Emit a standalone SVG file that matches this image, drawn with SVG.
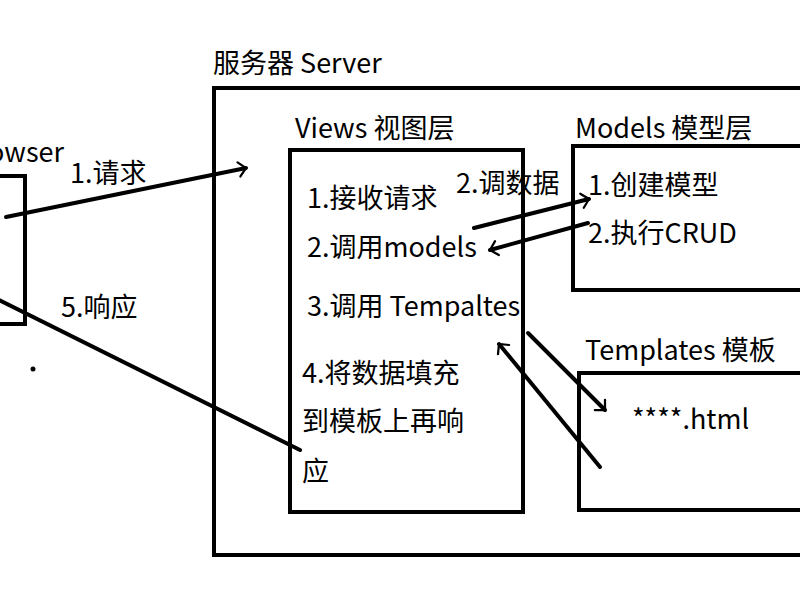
<svg xmlns="http://www.w3.org/2000/svg" width="800" height="600" viewBox="0 0 800 600">
<style>
.b{fill:none;stroke:#000;stroke-width:4}
.t{font-family:"Noto Sans CJK SC","Noto Sans",sans-serif;font-size:27px;fill:#000}
.c{fill:none;stroke:#000;stroke-width:4;stroke-linecap:round}
</style>
<defs><marker id="a" viewBox="0 0 10 10" refX="9" refY="5" markerWidth="5" markerHeight="5" orient="auto" markerUnits="userSpaceOnUse" style="overflow:visible"><path d="M-8,-8 L0,0 L-8,8" transform="translate(9,5) scale(1.8)" fill="none" stroke="#000" stroke-width="2.5" stroke-linecap="round"/></marker></defs>
<rect width="800" height="600" fill="#fff"/>
<g id="browser"><rect class="b" x="-10" y="176" width="35" height="148"/><text class="t" x="-12" y="162">owser</text></g>
<g id="server"><rect class="b" x="214" y="88" width="600" height="467"/><text class="t" x="213" y="73">服务器 Server</text></g>
<g id="views"><rect class="b" x="290" y="150" width="233" height="362"/><text class="t" x="295" y="138">Views 视图层</text>
<text class="t" x="307" y="208">1.接收请求</text><text class="t" x="307" y="257">2.调用models</text><text class="t" x="307" y="316">3.调用 Tempaltes</text><text class="t" x="302" y="383">4.将数据填充</text><text class="t" x="302" y="431">到模板上再响</text><text class="t" x="302" y="481">应</text></g>
<g id="models"><rect class="b" x="573" y="146" width="240" height="144"/><text class="t" x="575" y="138">Models 模型层</text><text class="t" x="588" y="195">1.创建模型</text><text class="t" x="588" y="243">2.执行CRUD</text></g>
<g id="templates"><rect class="b" x="579" y="373" width="240" height="137"/><text class="t" x="585" y="360">Templates 模板</text><text class="t" x="632" y="429">****.html</text></g>
<g id="connectors">
<line class="c" x1="6" y1="217" x2="246" y2="168" marker-end="url(#a)"/>
<text class="t" x="70" y="183">1.请求</text>
<line class="c" x1="-5" y1="298" x2="300" y2="450"/>
<text class="t" x="61" y="317">5.响应</text>
<line class="c" x1="474" y1="228" x2="589" y2="199" marker-end="url(#a)"/>
<text class="t" x="456" y="193">2.调数据</text>
<line class="c" x1="588" y1="223" x2="490" y2="250" marker-end="url(#a)"/>
<line class="c" x1="528" y1="333" x2="605" y2="410" marker-end="url(#a)"/>
<line class="c" x1="600" y1="467" x2="499" y2="344" marker-end="url(#a)"/>
<circle cx="33" cy="369" r="2.5" fill="#000"/>
</g>
</svg>
